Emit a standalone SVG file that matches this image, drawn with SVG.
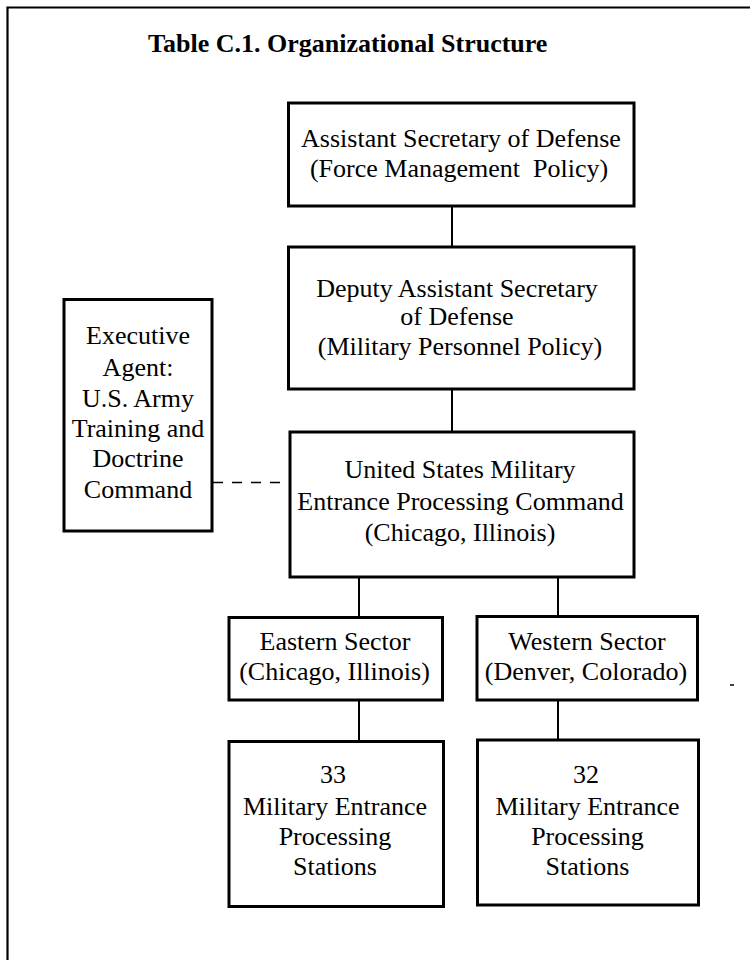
<svg xmlns="http://www.w3.org/2000/svg" width="750" height="960" viewBox="0 0 750 960">
<style>
  .bg { fill: #ffffff; }
  .frame { fill: none; stroke: #000; stroke-width: 2.2; }
  .box { fill: #ffffff; stroke: #000; stroke-width: 3; }
  .conn { fill: none; stroke: #000; stroke-width: 2; }
  .dash { fill: none; stroke: #000; stroke-width: 1.6; stroke-dasharray: 10 9; }
  text { font-family: "Liberation Serif", "Times New Roman", serif; font-size: 26px; fill: #000; text-anchor: middle; }
  .title { font-weight: bold; text-anchor: start; }
</style>
<rect class="bg" x="0" y="0" width="750" height="960"/>
<g id="frame">
  <polyline class="frame" points="750,7.5 7.5,7.5 7.5,960"/>
  <text class="title" x="148" y="52">Table C.1. Organizational Structure</text>
</g>
<g id="connectors">
  <line class="conn" x1="452" y1="206" x2="452" y2="247"/>
  <line class="conn" x1="452" y1="389" x2="452" y2="432"/>
  <line class="dash" x1="213" y1="482.5" x2="289" y2="482.5"/>
  <line class="conn" x1="359" y1="577" x2="359" y2="617"/>
  <line class="conn" x1="558" y1="577" x2="558" y2="617"/>
  <line class="conn" x1="359" y1="700" x2="359" y2="741"/>
  <line class="conn" x1="558" y1="700" x2="558" y2="740"/>
</g>
<g id="asd">
  <rect class="box" x="288.5" y="103" width="345.5" height="103"/>
  <text x="461" y="146.5">Assistant Secretary of Defense</text>
  <text x="459" y="176.5" xml:space="preserve">(Force Management  Policy)</text>
</g>
<g id="dasd">
  <rect class="box" x="288.5" y="247" width="345.5" height="142"/>
  <text x="457" y="296.5">Deputy Assistant Secretary</text>
  <text x="457" y="325">of Defense</text>
  <text x="460" y="355">(Military Personnel Policy)</text>
</g>
<g id="exec">
  <rect class="box" x="64" y="299.5" width="148" height="231.5"/>
  <text x="138" y="344">Executive</text>
  <text x="138" y="375.5">Agent:</text>
  <text x="138" y="406.5">U.S. Army</text>
  <text x="138" y="436.5">Training and</text>
  <text x="138" y="466.5">Doctrine</text>
  <text x="138" y="498">Command</text>
</g>
<g id="usmepcom">
  <rect class="box" x="290" y="432" width="344" height="145"/>
  <text x="460" y="478">United States Military</text>
  <text x="460.5" y="510">Entrance Processing Command</text>
  <text x="460" y="540.5">(Chicago, Illinois)</text>
</g>
<g id="eastern">
  <rect class="box" x="229" y="617.5" width="213.5" height="82.5"/>
  <text x="335" y="650">Eastern Sector</text>
  <text x="334.5" y="680">(Chicago, Illinois)</text>
</g>
<g id="western">
  <rect class="box" x="477" y="616.5" width="220.5" height="83.5"/>
  <text x="587" y="650">Western Sector</text>
  <text x="586" y="680">(Denver, Colorado)</text>
</g>
<g id="east-meps">
  <rect class="box" x="229" y="741.5" width="214.5" height="165"/>
  <text x="333" y="783">33</text>
  <text x="335" y="815">Military Entrance</text>
  <text x="335" y="845">Processing</text>
  <text x="335" y="875">Stations</text>
</g>
<g id="west-meps">
  <rect class="box" x="477.5" y="740" width="221" height="165"/>
  <text x="586" y="783">32</text>
  <text x="587.5" y="815">Military Entrance</text>
  <text x="587.5" y="845">Processing</text>
  <text x="587.5" y="875">Stations</text>
</g>
<line x1="730" y1="685" x2="734" y2="685" stroke="#000" stroke-width="1.5"/>
</svg>
